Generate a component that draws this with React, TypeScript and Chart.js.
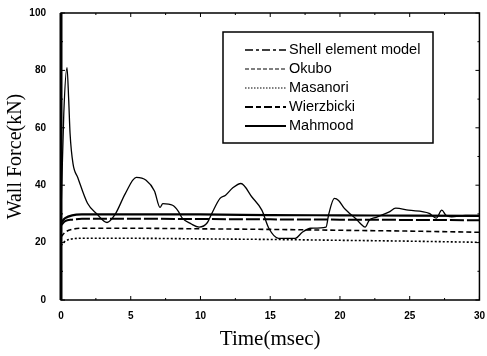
import React, { useEffect, useRef } from "react";
import { Chart, registerables } from "chart.js";

Chart.register(...registerables);

// Shell element model (FE simulation) curve
const shellTime = [0, 0.2, 0.43, 0.55, 0.65, 0.86, 1.2, 1.9, 2.57, 3.3, 3.9, 4.6, 5.4, 6.1, 6.7, 7.1, 7.3, 8, 8.4, 8.7, 9.3, 9.9, 10.5, 10.8, 11.4, 11.8, 12.3, 12.9, 13.7, 14.4, 14.9, 15.6, 16.8, 17.3, 17.9, 19, 19.2, 19.6, 19.9, 20.3, 20.6, 21.1, 21.5, 21.8, 22.1, 22.6, 23.5, 24, 24.9, 26.4, 26.9, 27.3, 27.6, 28, 29, 30];
const shellForce = [30, 65, 81, 70, 58, 47.5, 42.7, 33.7, 30, 27, 30, 37, 42.7, 41.7, 38, 32.3, 33.6, 33, 31, 28.5, 26.6, 25.4, 27, 30, 35.4, 36.5, 39, 40.6, 35.8, 31.3, 25, 21.5, 21.5, 23.6, 25, 25.4, 30, 35.4, 34.7, 32, 30.6, 28.5, 26.5, 25.4, 27.8, 28.8, 30.6, 32, 31.3, 30.2, 28.5, 31.3, 29.5, 29, 29.5, 29.5];

// Theoretical models
const modelTime = [0, 0.3, 0.8, 1.5, 5, 10, 15, 20, 25, 30];
const okuboForce = [22, 23.6, 24.6, 25, 25, 24.8, 24.6, 24.3, 24, 23.6];
const masanoriForce = [19, 20.5, 21.3, 21.5, 21.5, 21.3, 21.1, 20.8, 20.5, 20.1];
const wierzbickiForce = [26, 27.5, 28, 28.3, 28.3, 28.2, 28.1, 28, 27.9, 27.8];
const mahmoodForce = [27, 28.5, 29.5, 29.8, 29.8, 29.8, 29.6, 29.5, 29.4, 29.3];

const seriesNames = ["Shell element model", "Okubo", "Masanori", "Wierzbicki", "Mahmood"];
const xTicks = [0, 5, 10, 15, 20, 25, 30];
const yTicks = [0, 20, 40, 60, 80, 100];

const toPoints = (xs: number[], ys: number[]) => xs.map((x, i) => ({ x, y: ys[i] }));

const legendDashes: number[][] = [[8, 3, 3, 3], [4, 2], [1.5, 1.5], [8, 3, 5, 3], []];
const legendWidths = [1.5, 1.2, 1.2, 1.8, 1.8];

const framePlugin = {
  id: "frame",
  afterDatasetsDraw(chart: any) {
    const { ctx, chartArea: a, scales } = chart;
    ctx.save();
    ctx.strokeStyle = "#000";
    ctx.lineWidth = 1.5;
    ctx.strokeRect(a.left, a.top, a.right - a.left, a.bottom - a.top);
    ctx.lineWidth = 3;
    ctx.beginPath();
    ctx.moveTo(a.left, a.top);
    ctx.lineTo(a.left, a.bottom);
    ctx.stroke();
    // inward tick marks
    ctx.lineWidth = 1;
    const xs = scales.x;
    for (let v = 0; v <= 30; v += 2.5) {
      const px = xs.getPixelForValue(v);
      const len = v % 5 === 0 ? 4 : 2;
      ctx.beginPath();
      ctx.moveTo(px, a.bottom);
      ctx.lineTo(px, a.bottom - len);
      ctx.moveTo(px, a.top);
      ctx.lineTo(px, a.top + len);
      ctx.stroke();
    }
    const ys = scales.y;
    for (let v = 0; v <= 100; v += 10) {
      const py = ys.getPixelForValue(v);
      const len = v % 20 === 0 ? 4 : 2;
      ctx.beginPath();
      ctx.moveTo(a.right, py);
      ctx.lineTo(a.right - len, py);
      ctx.moveTo(a.left, py);
      ctx.lineTo(a.left + len, py);
      ctx.stroke();
    }
    // legend box
    const bx = 223, by = 32, bw = 210, bh = 111;
    ctx.fillStyle = "#fff";
    ctx.fillRect(bx, by, bw, bh);
    ctx.lineWidth = 1.5;
    ctx.strokeRect(bx, by, bw, bh);
    ctx.font = "14.5px 'Liberation Sans', Arial, sans-serif";
    ctx.textBaseline = "middle";
    ctx.fillStyle = "#000";
    chart.data.datasets.forEach((ds: any, i: number) => {
      const y = by + 18 + i * 19;
      ctx.save();
      ctx.lineWidth = legendWidths[i];
      ctx.setLineDash(legendDashes[i]);
      ctx.beginPath();
      ctx.moveTo(bx + 22, y);
      ctx.lineTo(bx + 63, y);
      ctx.stroke();
      ctx.restore();
      ctx.fillText(ds.label, bx + 66, y);
    });
    ctx.restore();
  },
};

export default function App() {
  const ref = useRef<HTMLCanvasElement | null>(null);
  useEffect(() => {
    document.body.style.margin = "0";
    const canvas = ref.current!;
    const chart = new Chart(canvas, {
      type: "line",
      data: {
        datasets: [
          { label: seriesNames[0], data: toPoints(shellTime, shellForce), borderColor: "#000", borderWidth: 1.3, pointRadius: 0, cubicInterpolationMode: "monotone", fill: false },
          { label: seriesNames[1], data: toPoints(modelTime, okuboForce), borderColor: "#000", borderWidth: 1.6, borderDash: [5, 3], pointRadius: 0, cubicInterpolationMode: "monotone", fill: false },
          { label: seriesNames[2], data: toPoints(modelTime, masanoriForce), borderColor: "#000", borderWidth: 1.6, borderDash: [2, 2], pointRadius: 0, cubicInterpolationMode: "monotone", fill: false },
          { label: seriesNames[3], data: toPoints(modelTime, wierzbickiForce), borderColor: "#000", borderWidth: 2, borderDash: [14, 3], pointRadius: 0, cubicInterpolationMode: "monotone", fill: false },
          { label: seriesNames[4], data: toPoints(modelTime, mahmoodForce), borderColor: "#000", borderWidth: 2.2, pointRadius: 0, cubicInterpolationMode: "monotone", fill: false },
        ],
      },
      options: {
        animation: false,
        responsive: false,
        maintainAspectRatio: false,
        layout: { padding: { top: 12, right: 0, left: 0, bottom: 0 } },
        plugins: { legend: { display: false }, tooltip: { enabled: false } },
        scales: {
          x: {
            type: "linear",
            min: 0,
            max: 30,
            afterBuildTicks: (s: any) => { s.ticks = xTicks.map((v) => ({ value: v })); },
            afterFit: (s: any) => { s.height = 56; },
            grid: { display: false },
            border: { display: false },
            ticks: { color: "#000", padding: 2, font: { family: "'Liberation Sans', Arial", size: 10, weight: "bold" } },
            title: { display: true, text: "Time(msec)", color: "#000", padding: { top: 4, bottom: 4 }, font: { family: "'Liberation Serif', 'Times New Roman', serif", size: 21 } },
          },
          y: {
            type: "linear",
            min: 0,
            max: 100,
            afterBuildTicks: (s: any) => { s.ticks = yTicks.map((v) => ({ value: v })); },
            afterFit: (s: any) => { s.width = 61; },
            grid: { display: false },
            border: { display: false },
            ticks: { color: "#000", padding: 7, font: { family: "'Liberation Sans', Arial", size: 10, weight: "bold" } },
            title: { display: true, text: "Wall Force(kN)", color: "#000", padding: { top: 4, bottom: 4 }, font: { family: "'Liberation Serif', 'Times New Roman', serif", size: 20 } },
          },
        },
      },
      plugins: [framePlugin],
    } as any);
    return () => chart.destroy();
  }, []);
  return (
    <div style={{ width: 487, height: 356 }}>
      <canvas ref={ref} width={487} height={356} style={{ display: "block", width: 487, height: 356 }} />
    </div>
  );
}
